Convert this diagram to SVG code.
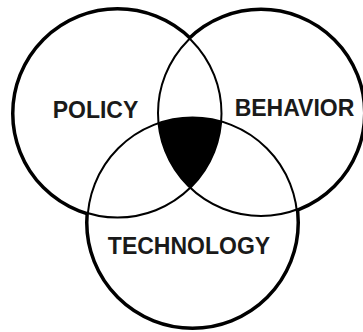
<svg xmlns="http://www.w3.org/2000/svg" width="363" height="332" viewBox="0 0 363 332">
  <style>
    .rim { fill: none; stroke: #000; stroke-width: 5; }
    .knock { fill: #fff; stroke: none; }
    .ring { fill: none; stroke: #000; stroke-width: 2; }
    .label { font-family: "Liberation Sans", Arial, sans-serif; font-weight: bold; font-size: 23px; fill: #1a1a1a; text-anchor: middle; }
  </style>
  <rect width="363" height="332" fill="#fff"/>

  <!-- heavier outer edge of the union: thick strokes, inner halves knocked out with white discs -->
  <g id="venn-border">
    <circle class="rim" cx="117.5" cy="113.5" r="104"/>
    <circle class="rim" cx="261" cy="113" r="103"/>
    <circle class="rim" cx="192.5" cy="222.5" r="105"/>
    <circle class="knock" cx="117.5" cy="113.5" r="104"/>
    <circle class="knock" cx="261" cy="113" r="103"/>
    <circle class="knock" cx="192.5" cy="222.5" r="105"/>
  </g>

  <g id="policy">
    <circle class="ring" cx="117.5" cy="113.5" r="104"/>
    <text class="label" x="95.5" y="118">POLICY</text>
  </g>

  <g id="behavior">
    <circle class="ring" cx="261" cy="113" r="103"/>
    <text class="label" x="294.5" y="115.5">BEHAVIOR</text>
  </g>

  <g id="technology">
    <circle class="ring" cx="192.5" cy="222.5" r="105"/>
    <text class="label" x="189" y="254">TECHNOLOGY</text>
  </g>

  <!-- common area of all three circles -->
  <g id="overlap">
    <path d="M158.5 123.2 A105 105 0 0 1 221.2 121.5 A104 104 0 0 1 190.2 187.8 A103 103 0 0 1 158.5 123.2 Z" fill="#000"/>
  </g>
</svg>
